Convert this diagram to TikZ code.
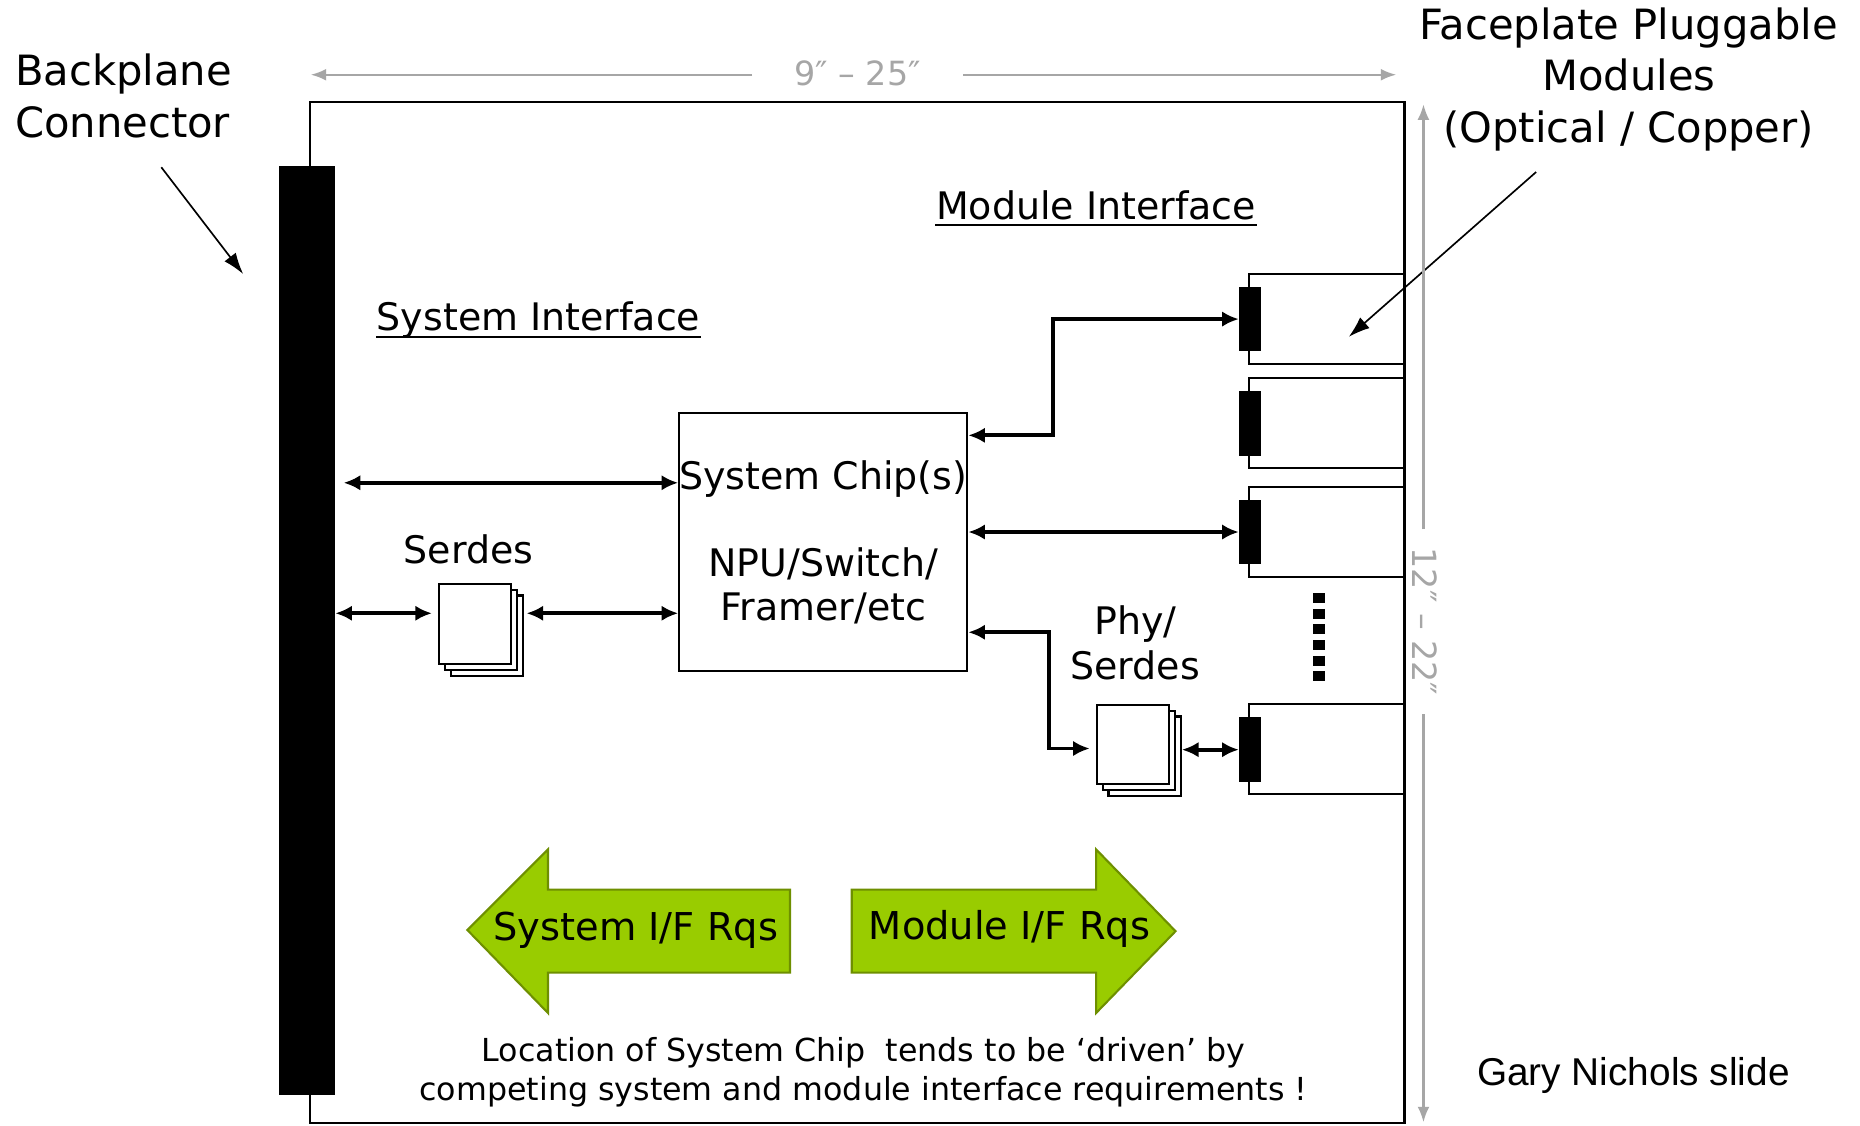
\documentclass[tikz,border=0pt]{standalone}
\usepackage{fontspec}
\setmainfont{DejaVu Sans}
\newfontfamily\slidefont{Liberation Sans}
\usetikzlibrary{arrows.meta}
\definecolor{dimgray}{HTML}{A6A6A6}
\definecolor{rqgreen}{HTML}{99CC00}
\definecolor{rqedge}{HTML}{6E8F00}
\newcommand\lblfont{\fontsize{9.1}{10.5}\selectfont}
\newcommand\callfont{\fontsize{10}{12.4}\selectfont}
\newcommand\notefont{\fontsize{7.6}{9.4}\selectfont}
\newcommand\dimfont{\fontsize{8}{9.6}\selectfont}
\begin{document}
\begin{tikzpicture}[x=0.1mm,y=-0.1mm,
  board/.style={line width=0.5pt},
  dconn/.style={line width=0.9pt,{Latex[length=1.4mm,width=1.3mm]}-{Latex[length=1.4mm,width=1.3mm]}},
  callout/.style={line width=0.4pt,-{Latex[length=1.8mm,width=1.2mm]}},
  dimline/.style={dimgray,line width=0.5pt,-{Latex[length=1.3mm,width=1mm]}},
  dimtext/.style={text=dimgray,font=\dimfont,inner ysep=0pt},
  pagebox/.style={draw,fill=white,line width=0.5pt,minimum width=6.1mm,minimum height=6.8mm,inner sep=0pt},
  modbox/.style={draw,line width=0.5pt,minimum width=13.1mm,minimum height=7.6mm,inner sep=0pt},
  pinbox/.style={draw,fill=black,minimum width=1.7mm,minimum height=5.3mm,inner sep=0pt},
  lbl/.style={font=\lblfont,inner sep=0pt},
  rqarrow/.style={fill=rqgreen,draw=rqedge,line width=0.5pt}]
\useasboundingbox (0,0) rectangle (1568,949);
\fill[white] (0,0) rectangle (1568,949);
% board and backplane
\draw[board] (261,86) rectangle (1184,947);
\node[draw,fill=black,minimum width=4.6mm,minimum height=78.1mm,inner sep=0pt] (bar) at (259,531.5) {};
% faceplate modules
\node[modbox] (mod1) at (1118.5,269) {};
\node[modbox] (mod2) at (1118.5,356.5) {};
\node[modbox] (mod3) at (1118.5,448.5) {};
\node[modbox] (mod4) at (1118.5,631.5) {};
\node[pinbox] (pin1) at (1053.5,269) {};
\node[pinbox] (pin2) at (1053.5,357) {};
\node[pinbox] (pin3) at (1053.5,448.5) {};
\node[pinbox] (pin4) at (1053.5,632) {};
\draw[line width=1mm,dash pattern=on 0.84mm off 0.48mm] (1112,500) -- (1112,576);
% chips
\node[draw,line width=0.5pt,minimum width=24.2mm,minimum height=21.8mm,lbl,align=center] (chip) at (694,457)
  {System Chip(s)\\[10.5pt]NPU/Switch/\\Framer/etc};
\node[pagebox] (ser3) at (410.5,536) {};
\node[pagebox] (ser2) at (405.5,531) {};
\node[pagebox] (ser1) at (400.5,526) {};
\node[lbl] (serlbl) at (395,463) {Serdes};
\node[pagebox,minimum height=6.7mm] (phy3) at (965,637.5) {};
\node[pagebox,minimum height=6.7mm] (phy2) at (960,632.5) {};
\node[pagebox,minimum height=6.7mm] (phy1) at (955,627.5) {};
\node[lbl,align=center,font=\fontsize{9.1}{10.8}\selectfont] (phylbl) at (957,542) {Phy/\\Serdes};
% links
\draw[dconn,shorten <=0.7mm] (bar.east |- 0,407) -- (chip.west |- 0,407);
\draw[dconn,shorten >=0.5mm] (bar.east |- 0,517) -- (ser1.west |- 0,517);
\draw[dconn,shorten <=0.2mm] (ser3.east |- 0,517) -- (chip.west |- 0,517);
\draw[dconn] (chip.east |- 0,367) -- (888,367) |- (pin1.west);
\draw[dconn] (chip.east |- pin3) -- (pin3.west);
\draw[dconn,shorten >=0.5mm] (chip.east |- 0,533) -- (884,533) |- (phy1.west |- 0,631);
\draw[dconn] (phy3.east |- pin4) -- (pin4.west);
% interface labels
\node[lbl] (sysif) at (454,270) {System Interface};
\draw[line width=0.5pt] ([yshift=-0.55mm]sysif.base west) -- ([yshift=-0.55mm]sysif.base east);
\node[lbl] (modif) at (924,173) {Module Interface};
\draw[line width=0.5pt] ([yshift=-0.45mm]modif.base west) -- ([yshift=-0.45mm]modif.base east);
% callouts
\node[font=\callfont,align=left,anchor=west,inner sep=0pt] (bplbl) at (12,81) {Backplane\\Connector};
\coordinate (bptail) at (136,141);
\coordinate (bptip) at (205,231);
\draw[callout] (bptail) -- (bptip);
\node[font=\callfont,align=center,inner sep=0pt] (fplbl) at (1373,67) {Faceplate Pluggable\\Modules\\(Optical / Copper)};
\coordinate (fptail) at (1295,145);
\coordinate (fptip) at (1137,284);
\draw[callout] (fptail) -- (fptip);
% dimensions
\node[dimtext,inner xsep=3.5mm] (wdim) at (723,62) {9″ – 25″};
\coordinate (wl) at (262,63);
\coordinate (wr) at (1177,63);
\draw[dimline] (wdim.west |- wl) -- (wl);
\draw[dimline] (wdim.east |- wr) -- (wr);
\node[dimtext,inner xsep=1.5mm,rotate=-90] (hdim) at (1201,524) {12″ – 22″};
\coordinate (ht) at (1200,88);
\coordinate (hb) at (1200,946);
\draw[dimline] (hdim.west -| ht) -- (ht);
\draw[dimline] (hdim.east -| hb) -- (hb);
% requirement arrows
\draw[rqarrow] (666,750) -- (462,750) -- (462,716) -- (394,784) -- (462,854) -- (462,820) -- (666,820) -- cycle;
\node[lbl,font=\fontsize{9.2}{11}\selectfont] (sysrq) at (536,784) {System I/F Rqs};
\draw[rqarrow] (718,750) -- (924,750) -- (924,716) -- (991,785) -- (924,854) -- (924,820) -- (718,820) -- cycle;
\node[lbl,font=\fontsize{9.2}{11}\selectfont] (modrq) at (851,783) {Module I/F Rqs};
\node[font=\notefont,align=center,inner sep=0pt] (note) at (728,904)
  {Location of System Chip~ tends to be ‘driven’ by\\competing system and module interface requirements !};
\node[font=\slidefont\fontsize{9.3}{11}\selectfont,inner sep=0pt] (credit) at (1377,907) {Gary Nichols slide};
\end{tikzpicture}
\end{document}
